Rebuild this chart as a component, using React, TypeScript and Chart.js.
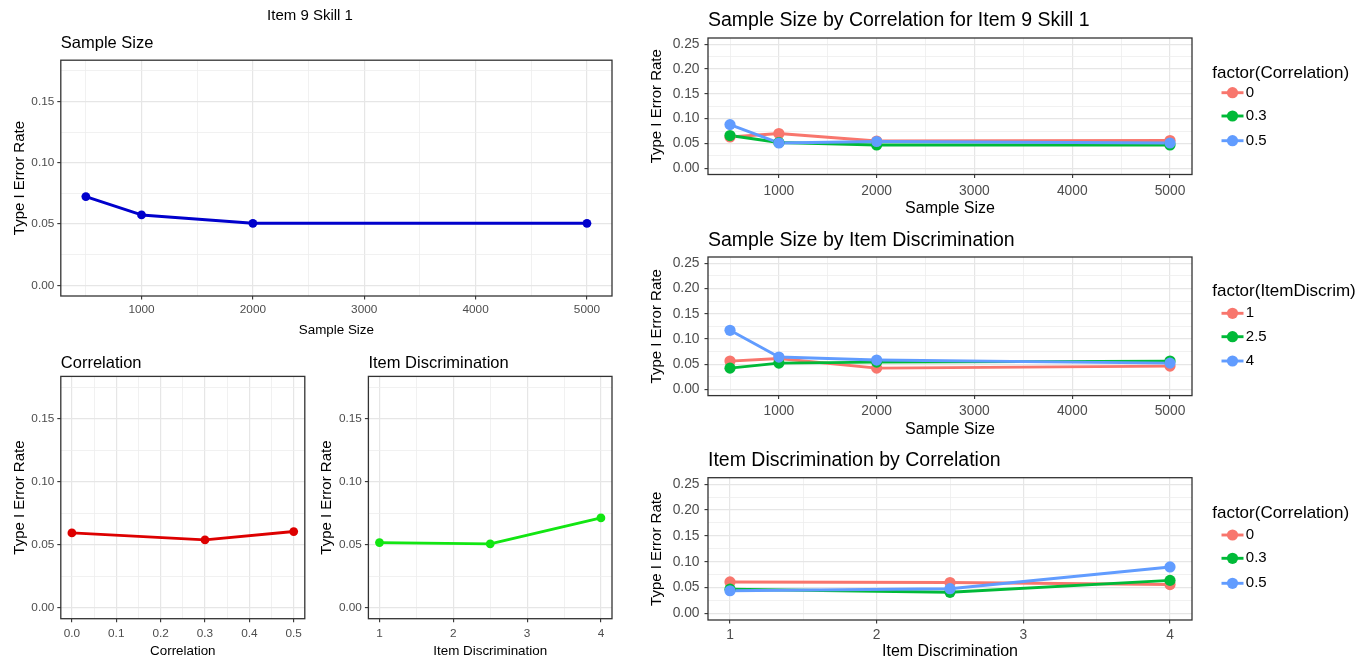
import React, { useEffect, useRef } from "react";
import { Chart, registerables } from "chart.js";

Chart.register(...registerables);

const FONT = "'Liberation Sans', Arial, Helvetica, sans-serif";

// ---------------- DATA ----------------
const SAMPLE_SIZES = [500, 1000, 2000, 5000];
const CORRELATIONS = [0, 0.3, 0.5];
const ITEM_DISCRIM = [1, 2.5, 4];

// main effects
const RATE_BY_SAMPLE = [0.0724, 0.0574, 0.0506, 0.0506];
const RATE_BY_CORR = [0.0594, 0.0539, 0.0605];
const RATE_BY_DISCRIM = [0.0517, 0.0507, 0.0713];

// Sample size by correlation (series = correlation 0, 0.3, 0.5)
const SS_BY_CORR_0 = [0.063, 0.070, 0.055, 0.056];
const SS_BY_CORR_03 = [0.066, 0.052, 0.047, 0.047];
const SS_BY_CORR_05 = [0.088, 0.051, 0.054, 0.051];

// Sample size by item discrimination (series = 1, 2.5, 4)
const SS_BY_DISC_1 = [0.056, 0.061, 0.042, 0.046];
const SS_BY_DISC_25 = [0.042, 0.052, 0.054, 0.056];
const SS_BY_DISC_4 = [0.117, 0.064, 0.058, 0.052];

// Item discrimination by correlation (series = correlation 0, 0.3, 0.5)
const DISC_BY_CORR_0 = [0.061, 0.060, 0.056];
const DISC_BY_CORR_03 = [0.047, 0.041, 0.064];
const DISC_BY_CORR_05 = [0.044, 0.048, 0.090];

// ---------------- TICKS ----------------
const Y_GRID_LEFT = [0, 0.025, 0.05, 0.075, 0.1, 0.125, 0.15, 0.175];
const Y_LABELS_LEFT = [0, 0.05, 0.1, 0.15];
const Y_GRID_RIGHT = [0, 0.025, 0.05, 0.075, 0.1, 0.125, 0.15, 0.175, 0.2, 0.225, 0.25];
const Y_LABELS_RIGHT = [0, 0.05, 0.1, 0.15, 0.2, 0.25];
const SS_GRID = [500, 1000, 1500, 2000, 2500, 3000, 3500, 4000, 4500, 5000];
const SS_LABELS = [1000, 2000, 3000, 4000, 5000];
const CORR_GRID = [0, 0.05, 0.1, 0.15, 0.2, 0.25, 0.3, 0.35, 0.4, 0.45, 0.5];
const CORR_LABELS = [0, 0.1, 0.2, 0.3, 0.4, 0.5];
const DISC_GRID = [1, 1.5, 2, 2.5, 3, 3.5, 4];
const DISC_LABELS = [1, 2, 3, 4];

const GG_RED = "#F8766D";
const GG_GREEN = "#00BA38";
const GG_BLUE = "#619CFF";

function expand(lo: number, hi: number): [number, number] {
  const d = (hi - lo) * 0.05;
  return [lo - d, hi + d];
}

type Series = { label: string; color: string; xs: number[]; ys: number[] };

type Axis = {
  range: [number, number];
  grid: number[];
  labels: number[];
  fmt: (v: number) => string;
};

type PanelSpec = {
  canvas: [number, number, number, number];
  plot: [number, number, number, number];
  x: Axis;
  y: Axis;
  title: string;
  titleY: number;
  titleSize: number;
  supTitle?: { text: string; x: number; y: number; size: number };
  xTitle: string;
  xTitleY: number;
  xTitleSize: number;
  yTitle: string;
  yTitleX: number;
  yTitleSize: number;
  tickSize: number;
  xTickPad: number;
  yTickPad: number;
  lineWidth: number;
  pointRadius: number;
  series: Series[];
  legend?: {
    title: string;
    titleX: number;
    titleY: number;
    titleSize: number;
    keyX: number;
    labelX: number;
    labelSize: number;
    itemYs: number[];
  };
};

const TICK_LEN = 3.5;

function isIn(list: number[], v: number) {
  return list.some((m) => Math.abs(m - v) < 1e-9);
}

function scaleOptions(
  axis: Axis,
  isX: boolean,
  spec: PanelSpec,
  size: number,
  titlePad: { top: number; bottom: number }
) {
  const [cx, cy, cw, ch] = spec.canvas;
  const [L, T, R, B] = spec.plot;
  return {
    type: "linear",
    position: isX ? "bottom" : "left",
    min: axis.range[0],
    max: axis.range[1],
    afterBuildTicks: (s: any) => {
      s.ticks = axis.grid.map((v) => ({ value: v }));
    },
    afterFit: (s: any) => {
      if (isX) s.height = cy + ch - B;
      else s.width = L - cx;
    },
    ticks: {
      autoSkip: false,
      maxRotation: 0,
      minRotation: 0,
      padding: isX ? spec.xTickPad : spec.yTickPad,
      color: "#4D4D4D",
      font: { family: FONT, size: spec.tickSize, lineHeight: 1.2 },
      callback: (v: number) => (isIn(axis.labels, v) ? axis.fmt(v) : ""),
    },
    grid: {
      display: true,
      drawOnChartArea: true,
      drawTicks: true,
      offset: false,
      tickLength: TICK_LEN,
      color: (c: any) => (c.tick && isIn(axis.labels, c.tick.value) ? "#E6E6E6" : "#EDEDED"),
      lineWidth: (c: any) => (c.tick && isIn(axis.labels, c.tick.value) ? 1.2 : 0.8),
      tickColor: (c: any) =>
        c.tick && isIn(axis.labels, c.tick.value) ? "#333333" : "rgba(0,0,0,0)",
      tickWidth: 1.1,
    },
    border: { display: false },
    title: {
      display: true,
      text: isX ? spec.xTitle : spec.yTitle,
      color: "#000000",
      font: { family: FONT, size, lineHeight: 1.2 },
      padding: titlePad,
    },
  };
}

function makeDecor(spec: PanelSpec) {
  const [cx, cy] = spec.canvas;
  return {
    id: "decor",
    afterDatasetsDraw(chart: any) {
      const { ctx, chartArea: a } = chart;
      ctx.save();
      ctx.strokeStyle = "#333333";
      ctx.lineWidth = 1.3;
      ctx.strokeRect(a.left, a.top, a.right - a.left, a.bottom - a.top);
      ctx.restore();
    },
    afterDraw(chart: any) {
      const { ctx, chartArea: a } = chart;
      ctx.save();
      ctx.textBaseline = "middle";
      ctx.fillStyle = "#000000";
      ctx.textAlign = "left";
      ctx.font = `${spec.titleSize}px ${FONT}`;
      ctx.fillText(spec.title, a.left, spec.titleY - cy);
      if (spec.supTitle) {
        ctx.textAlign = "center";
        ctx.font = `${spec.supTitle.size}px ${FONT}`;
        ctx.fillText(spec.supTitle.text, spec.supTitle.x - cx, spec.supTitle.y - cy);
      }
      const lg = spec.legend;
      if (lg) {
        ctx.textAlign = "left";
        ctx.font = `${lg.titleSize}px ${FONT}`;
        ctx.fillText(lg.title, lg.titleX - cx, lg.titleY - cy);
        spec.series.forEach((s, i) => {
          const y = lg.itemYs[i] - cy;
          const kx = lg.keyX - cx;
          ctx.strokeStyle = s.color;
          ctx.lineWidth = spec.lineWidth;
          ctx.beginPath();
          ctx.moveTo(kx - 11, y);
          ctx.lineTo(kx + 11, y);
          ctx.stroke();
          ctx.fillStyle = s.color;
          ctx.beginPath();
          ctx.arc(kx, y, spec.pointRadius, 0, Math.PI * 2);
          ctx.fill();
          ctx.fillStyle = "#000000";
          ctx.font = `${lg.labelSize}px ${FONT}`;
          ctx.fillText(s.label, lg.labelX - cx, y);
        });
      }
      ctx.restore();
    },
  };
}

function makeConfig(spec: PanelSpec): any {
  const [cx, cy, cw, ch] = spec.canvas;
  const [L, T, R, B] = spec.plot;
  const n = spec.series.length;
  const lines = spec.series.map((s, i) => ({
    label: s.label,
    data: s.xs.map((x, j) => ({ x, y: s.ys[j] })),
    borderColor: s.color,
    backgroundColor: s.color,
    borderWidth: spec.lineWidth,
    borderJoinStyle: "round",
    borderCapStyle: "round",
    pointRadius: 0,
    pointHoverRadius: 0,
    showLine: true,
    tension: 0,
    fill: false,
    order: 2 * n - i,
  }));
  const points = spec.series.map((s, i) => ({
    label: s.label + " points",
    data: s.xs.map((x, j) => ({ x, y: s.ys[j] })),
    borderColor: s.color,
    backgroundColor: s.color,
    showLine: false,
    pointRadius: spec.pointRadius,
    pointHoverRadius: spec.pointRadius,
    pointBackgroundColor: s.color,
    pointBorderColor: s.color,
    pointBorderWidth: 0,
    order: n - i,
  }));
  const xLh = spec.xTitleSize * 1.2;
  const yLh = spec.yTitleSize * 1.2;
  return {
    type: "line",
    data: { datasets: [...lines, ...points] },
    options: {
      responsive: false,
      maintainAspectRatio: false,
      animation: false,
      events: [],
      layout: {
        padding: { left: 0, top: T - cy, right: cx + cw - R, bottom: 0 },
      },
      plugins: {
        legend: { display: false },
        tooltip: { enabled: false },
        title: { display: false },
      },
      scales: {
        x: scaleOptions(spec.x, true, spec, spec.xTitleSize, {
          top: 0,
          bottom: Math.max(0, cy + ch - spec.xTitleY - xLh / 2),
        }),
        y: scaleOptions(spec.y, false, spec, spec.yTitleSize, {
          top: Math.max(0, spec.yTitleX - cx - yLh / 2),
          bottom: 0,
        }),
      },
    },
    plugins: [makeDecor(spec)],
  };
}

// ---------------- PANELS ----------------
const SS_AXIS: Axis = { range: expand(500, 5000), grid: SS_GRID, labels: SS_LABELS, fmt: (v) => String(v) };
const CORR_AXIS: Axis = { range: expand(0, 0.5), grid: CORR_GRID, labels: CORR_LABELS, fmt: (v) => v.toFixed(1) };
const DISC_AXIS: Axis = { range: expand(1, 4), grid: DISC_GRID, labels: DISC_LABELS, fmt: (v) => String(v) };
const Y_LEFT: Axis = { range: expand(0, 0.175), grid: Y_GRID_LEFT, labels: Y_LABELS_LEFT, fmt: (v) => v.toFixed(2) };
const Y_RIGHT: Axis = { range: expand(0, 0.25), grid: Y_GRID_RIGHT, labels: Y_LABELS_RIGHT, fmt: (v) => v.toFixed(2) };

const LEFT_COMMON = {
  titleSize: 16.5,
  xTitleSize: 13.4,
  yTitle: "Type I Error Rate",
  yTitleSize: 15,
  tickSize: 11.8,
  yTickPad: 3,
  lineWidth: 2.9,
  pointRadius: 4.4,
};

const RIGHT_COMMON = {
  titleSize: 19.5,
  xTitleSize: 16,
  yTitle: "Type I Error Rate",
  yTitleX: 657,
  yTitleSize: 15,
  tickSize: 13.8,
  yTickPad: 5,
  lineWidth: 2.9,
  pointRadius: 5.6,
  y: Y_RIGHT,
};

const corrLabels = CORRELATIONS.map((c) => String(c));
const discLabels = ITEM_DISCRIM.map((d) => String(d));

const PANELS: PanelSpec[] = [
  {
    ...LEFT_COMMON,
    canvas: [0, 0, 630, 345],
    plot: [60.8, 60.2, 612, 296],
    x: SS_AXIS,
    y: Y_LEFT,
    title: "Sample Size",
    titleY: 43,
    supTitle: { text: "Item 9 Skill 1", x: 310, y: 15.5, size: 15 },
    xTitle: "Sample Size",
    xTitleY: 330,
    yTitleX: 19.4,
    xTickPad: 3.4,
    series: [{ label: "Sample Size", color: "#0000CC", xs: SAMPLE_SIZES, ys: RATE_BY_SAMPLE }],
  },
  {
    ...LEFT_COMMON,
    canvas: [0, 345, 312, 317],
    plot: [60.8, 376.4, 304.8, 618.7],
    x: CORR_AXIS,
    y: Y_LEFT,
    title: "Correlation",
    titleY: 363,
    xTitle: "Correlation",
    xTitleY: 651.7,
    yTitleX: 19.4,
    xTickPad: 4,
    series: [{ label: "Correlation", color: "#DD0000", xs: CORRELATIONS, ys: RATE_BY_CORR }],
  },
  {
    ...LEFT_COMMON,
    canvas: [312, 345, 318, 317],
    plot: [368.4, 376.4, 612, 618.7],
    x: DISC_AXIS,
    y: Y_LEFT,
    title: "Item Discrimination",
    titleY: 363,
    xTitle: "Item Discrimination",
    xTitleY: 651.7,
    yTitleX: 326.8,
    xTickPad: 4,
    series: [{ label: "Item Discrimination", color: "#12E612", xs: ITEM_DISCRIM, ys: RATE_BY_DISCRIM }],
  },
  {
    ...RIGHT_COMMON,
    canvas: [630, 0, 737, 220],
    plot: [708, 38, 1192, 174.5],
    x: SS_AXIS,
    title: "Sample Size by Correlation for Item 9 Skill 1",
    titleY: 20.8,
    xTitle: "Sample Size",
    xTitleY: 208.3,
    xTickPad: 4.7,
    series: [
      { label: corrLabels[0], color: GG_RED, xs: SAMPLE_SIZES, ys: SS_BY_CORR_0 },
      { label: corrLabels[1], color: GG_GREEN, xs: SAMPLE_SIZES, ys: SS_BY_CORR_03 },
      { label: corrLabels[2], color: GG_BLUE, xs: SAMPLE_SIZES, ys: SS_BY_CORR_05 },
    ],
    legend: {
      title: "factor(Correlation)",
      titleX: 1212.2,
      titleY: 73.3,
      titleSize: 17,
      keyX: 1232.5,
      labelX: 1245.8,
      labelSize: 15,
      itemYs: [92.7, 116, 140.7],
    },
  },
  {
    ...RIGHT_COMMON,
    canvas: [630, 220, 737, 220],
    plot: [708, 257, 1192, 395.6],
    x: SS_AXIS,
    title: "Sample Size by Item Discrimination",
    titleY: 240.7,
    xTitle: "Sample Size",
    xTitleY: 429.3,
    xTickPad: 3.6,
    series: [
      { label: discLabels[0], color: GG_RED, xs: SAMPLE_SIZES, ys: SS_BY_DISC_1 },
      { label: discLabels[1], color: GG_GREEN, xs: SAMPLE_SIZES, ys: SS_BY_DISC_25 },
      { label: discLabels[2], color: GG_BLUE, xs: SAMPLE_SIZES, ys: SS_BY_DISC_4 },
    ],
    legend: {
      title: "factor(ItemDiscrim)",
      titleX: 1212.2,
      titleY: 291.7,
      titleSize: 17,
      keyX: 1232.5,
      labelX: 1245.8,
      labelSize: 15,
      itemYs: [313.3, 336.7, 361],
    },
  },
  {
    ...RIGHT_COMMON,
    canvas: [630, 440, 737, 222],
    plot: [708, 477.7, 1192, 620],
    x: DISC_AXIS,
    title: "Item Discrimination by Correlation",
    titleY: 460.7,
    xTitle: "Item Discrimination",
    xTitleY: 651.7,
    xTickPad: 3,
    series: [
      { label: corrLabels[0], color: GG_RED, xs: ITEM_DISCRIM, ys: DISC_BY_CORR_0 },
      { label: corrLabels[1], color: GG_GREEN, xs: ITEM_DISCRIM, ys: DISC_BY_CORR_03 },
      { label: corrLabels[2], color: GG_BLUE, xs: ITEM_DISCRIM, ys: DISC_BY_CORR_05 },
    ],
    legend: {
      title: "factor(Correlation)",
      titleX: 1212.2,
      titleY: 513.3,
      titleSize: 17,
      keyX: 1232.5,
      labelX: 1245.8,
      labelSize: 15,
      itemYs: [535, 558.3, 583.3],
    },
  },
];

function Panel({ spec }: { spec: PanelSpec }) {
  const ref = useRef<HTMLCanvasElement>(null);
  useEffect(() => {
    if (!ref.current) return;
    const chart = new Chart(ref.current, makeConfig(spec));
    return () => chart.destroy();
  }, [spec]);
  const [cx, cy, cw, ch] = spec.canvas;
  return (
    <canvas
      ref={ref}
      width={cw}
      height={ch}
      style={{ position: "absolute", left: cx, top: cy, width: cw, height: ch, display: "block" }}
    />
  );
}

export default function App() {
  return (
    <div
      style={{
        position: "absolute",
        left: 0,
        top: 0,
        width: 1367,
        height: 662,
        overflow: "hidden",
        background: "#ffffff",
      }}
    >
      {PANELS.map((p, i) => (
        <Panel key={i} spec={p} />
      ))}
    </div>
  );
}
